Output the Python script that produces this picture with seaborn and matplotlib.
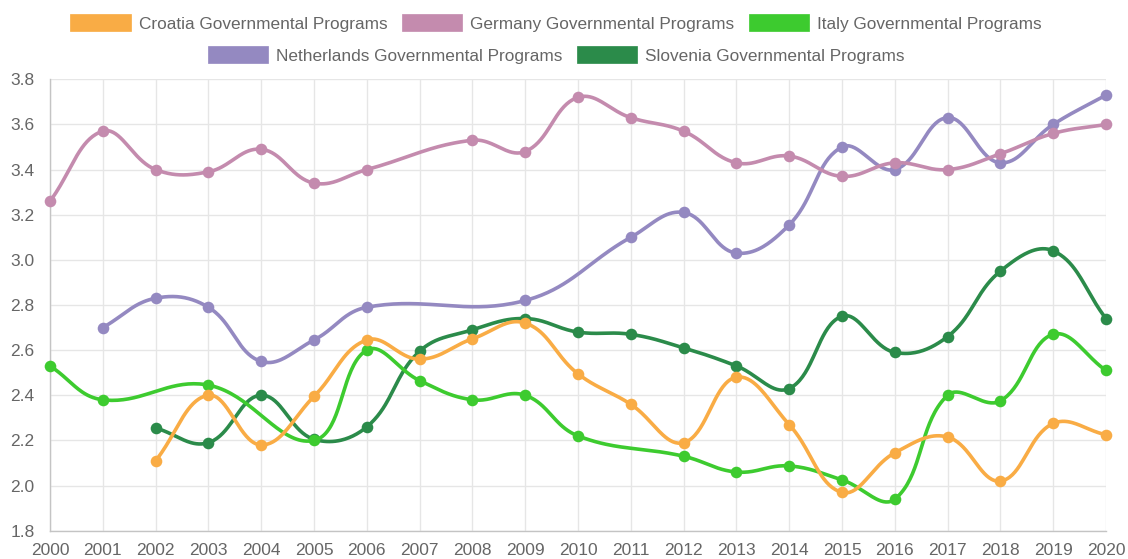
import numpy as np
import pandas as pd
import matplotlib
matplotlib.use("Agg")
import matplotlib.pyplot as plt
from matplotlib.patches import Patch
import seaborn as sns

sns.set_style("white")
plt.rcParams["font.family"] = ["Liberation Sans", "DejaVu Sans"]

years = list(range(2000, 2021))
nan = np.nan
croatia = [nan, nan, 2.11, 2.40, 2.18, 2.395, 2.645, 2.56, 2.65, 2.72, 2.495, 2.36, 2.19, 2.48, 2.27, 1.97, 2.145, 2.215, 2.02, 2.275, 2.225]
germany = [3.26, 3.57, 3.40, 3.39, 3.49, 3.34, 3.40, nan, 3.53, 3.48, 3.72, 3.63, 3.57, 3.43, 3.46, 3.37, 3.43, 3.40, 3.47, 3.56, 3.60]
italy = [2.53, 2.38, nan, 2.445, nan, 2.20, 2.60, 2.465, 2.38, 2.40, 2.22, nan, 2.13, 2.06, 2.087, 2.025, 1.94, 2.40, 2.375, 2.67, 2.51]
netherlands = [nan, 2.70, 2.83, 2.79, 2.55, 2.645, 2.79, nan, nan, 2.82, nan, 3.10, 3.21, 3.03, 3.155, 3.50, 3.40, 3.63, 3.43, 3.60, 3.73]
slovenia = [nan, nan, 2.255, 2.19, 2.40, 2.205, 2.26, 2.595, 2.69, 2.74, 2.68, 2.67, 2.61, 2.53, 2.43, 2.75, 2.59, 2.66, 2.95, 3.04, 2.74]

labels = ["Croatia Governmental Programs", "Germany Governmental Programs",
          "Italy Governmental Programs", "Netherlands Governmental Programs",
          "Slovenia Governmental Programs"]
series = [croatia, germany, italy, netherlands, slovenia]
colors = ["#F9AC45", "#C48BAE", "#3DCB2F", "#9489C1", "#2B8B4A"]

y_ticks = [1.8, 2.0, 2.2, 2.4, 2.6, 2.8, 3.0, 3.2, 3.4, 3.6, 3.8]

# approximate pixel scale used for the spline tension (Chart.js style)
PX_X, PX_Y = 52.8, 225.7
TENSION = 0.4


def spline(xs, ys, n=40):
    px = np.array(xs, float) * PX_X
    py = -np.array(ys, float) * PX_Y
    m = len(px)
    cp_prev = np.zeros((m, 2))
    cp_next = np.zeros((m, 2))
    for i in range(m):
        p0 = (px[i - 1], py[i - 1]) if i > 0 else (px[i], py[i])
        p1 = (px[i], py[i])
        p2 = (px[i + 1], py[i + 1]) if i < m - 1 else (px[i], py[i])
        d01 = np.hypot(p1[0] - p0[0], p1[1] - p0[1])
        d12 = np.hypot(p2[0] - p1[0], p2[1] - p1[1])
        tot = d01 + d12
        s01 = d01 / tot if tot else 0
        s12 = d12 / tot if tot else 0
        fa, fb = TENSION * s01, TENSION * s12
        cp_prev[i] = (p1[0] - fa * (p2[0] - p0[0]), p1[1] - fa * (p2[1] - p0[1]))
        cp_next[i] = (p1[0] + fb * (p2[0] - p0[0]), p1[1] + fb * (p2[1] - p0[1]))
    outx, outy = [px[0]], [py[0]]
    t = np.linspace(0, 1, n)[1:]
    for i in range(m - 1):
        P0 = np.array([px[i], py[i]]); P1 = cp_next[i]; P2 = cp_prev[i + 1]; P3 = np.array([px[i + 1], py[i + 1]])
        b = ((1 - t) ** 3)[:, None] * P0 + (3 * (1 - t) ** 2 * t)[:, None] * P1 + \
            (3 * (1 - t) * t ** 2)[:, None] * P2 + (t ** 3)[:, None] * P3
        outx.extend(b[:, 0]); outy.extend(b[:, 1])
    return np.array(outx) / PX_X, -np.array(outy) / PX_Y


fig = plt.figure(figsize=(11.28, 5.59), dpi=100)
ax = fig.add_axes([50 / 1128, 1 - 530.7 / 559, (1106 - 50) / 1128, (530.7 - 79.3) / 559])

z = 3
for lab, vals, col in reversed(list(zip(labels, series, colors))):
    df = pd.DataFrame({"year": years, "value": vals}).dropna()
    cx, cy = spline(df["year"].values, df["value"].values)
    curve = pd.DataFrame({"x": cx, "y": cy})
    sns.lineplot(data=curve, x="x", y="y", sort=False, estimator=None, color=col,
                 linewidth=2.6, ax=ax, zorder=z, clip_on=False)
    sns.scatterplot(data=df, x="year", y="value", color=col, s=70, edgecolor=col,
                    linewidth=0, ax=ax, zorder=z + 0.5, clip_on=False)
    z += 1

ax.set_xlim(2000, 2020)
ax.set_ylim(1.8, 3.8)
ax.set_xticks(years)
ax.set_xticklabels([str(y) for y in years])
ax.set_yticks(y_ticks)
ax.set_yticklabels([f"{v:.1f}" for v in y_ticks])
ax.set_xlabel("")
ax.set_ylabel("")
ax.grid(True, color="#e6e6e6", linewidth=1)
ax.set_axisbelow(True)
for s in ["top", "right"]:
    ax.spines[s].set_visible(False)
for s in ["left", "bottom"]:
    ax.spines[s].set_color("#c4c4c4")
    ax.spines[s].set_linewidth(1)
ax.tick_params(axis="y", length=9, color="#e6e6e6", pad=2, labelsize=12.5, labelcolor="#666666")
ax.tick_params(axis="x", length=6, color="#e6e6e6", pad=3, labelsize=12.5, labelcolor="#666666")

handles = [Patch(facecolor=c, edgecolor=c, linewidth=0.5) for c in colors]
common = dict(loc="center", frameon=False, fontsize=12.4, handlelength=3.5, handleheight=1.15,
              handletextpad=0.46, columnspacing=0.85, borderpad=0, labelcolor="#666666")
fig.legend(handles[:3], labels[:3], ncol=3, bbox_to_anchor=(0.493, 1 - 23 / 559), **common)
fig.legend(handles[3:], labels[3:], ncol=2, bbox_to_anchor=(0.493, 1 - 55 / 559), **common)

fig.savefig("out.png", dpi=100)
